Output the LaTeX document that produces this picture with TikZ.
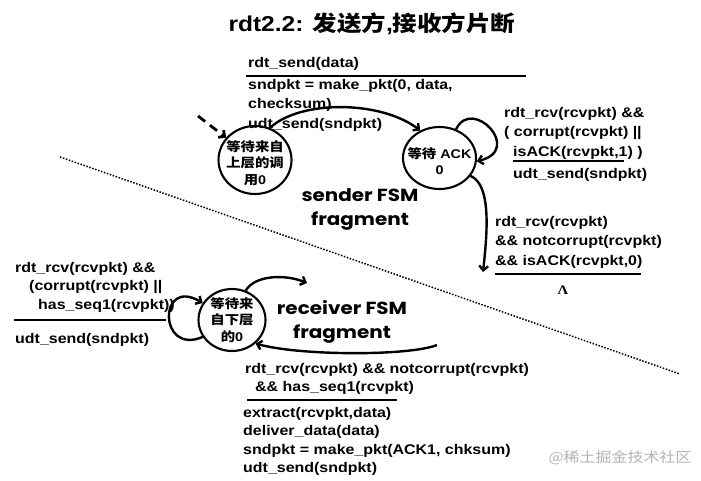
\documentclass[tikz,border=0pt]{standalone}
\usepackage{fontspec}
\setmainfont{Liberation Sans}[FakeStretch=1.14]
\newfontfamily\cjk{Noto Sans CJK SC}[FakeStretch=1.14]
\newfontfamily\fsmfont{Poppins}[FakeStretch=1.14]
\newfontfamily\lamfont{Liberation Serif}[FakeStretch=1.14]
\usetikzlibrary{shapes.geometric,arrows.meta}
\begin{document}
\begin{tikzpicture}[x=1pt,y=-1pt,>={Straight Barb[length=4.5pt,width=9pt]},line join=bevel,
    fsmstate/.style={draw=black,ellipse,line width=2.1pt,inner sep=0pt},
    statetext/.style={inner sep=0pt,align=center,font=\bfseries\fontsize{12.6}{16.5}\selectfont},
    lbl/.style={anchor=north west,inner sep=0pt,align=left,font=\bfseries\fontsize{14}{19.5}\selectfont},
    lbltight/.style={lbl,font=\bfseries\fontsize{14}{18.4}\selectfont},
    guardrule/.style={line width=1.6pt},
    trans/.style={->,line width=2.4pt},
    fsmlbl/.style={inner sep=0pt,align=center,font=\fsmfont\bfseries\fontsize{17.5}{24}\selectfont}]
    \useasboundingbox (0,0) rectangle (701,481);
    %%
    \node (title) at (372,24) [inner sep=0pt,font=\bfseries\fontsize{21.5}{26}\selectfont] {rdt2.2: {\cjk\bfseries 发送方},{\cjk\bfseries 接收方片断}};
    %% states
    \node (w0) at (255,160) [fsmstate,minimum width=73pt,minimum height=68pt,
        label={[statetext,yshift=-3pt]center:{\cjk 等待来自}\\{\cjk 上层的调}\\{\cjk 用}0}] {};
    \node (ack0) at (439.5,158) [fsmstate,minimum width=73pt,minimum height=62pt,
        label={[statetext,yshift=-3pt]center:{\cjk 等待} ACK\\0}] {};
    \node (r0) at (232,320) [fsmstate,minimum width=67pt,minimum height=62pt,
        label={[statetext]center:{\cjk 等待来}\\{\cjk 自下层}\\{\cjk 的}0}] {};
    \coordinate (init) at (198,116);
    \coordinate (ack0out) at (483,272);
    \coordinate (r0out) at (307,283);
    \coordinate (r0in) at (437,345);
    \coordinate (divL) at (60,157);
    \coordinate (divR) at (680,374);
    %% divider
    \draw [line width=1.5pt,dash pattern=on 1.5pt off 1.6pt] (divL) -- (divR);
    %% transitions
    \draw [trans,line width=2.8pt,dash pattern=on 9pt off 6pt] (init) -- (w0);
    \draw [trans] (w0.65) ..controls (300,100) and (380,100) .. (ack0.125);
    \draw [trans] (ack0.60) ..controls (472,96) and (524,150) .. (ack0.355);
    \draw [trans] (ack0.330) ..controls (492,185) and (487,235) .. (ack0out);
    \draw [trans] (r0.210) ..controls (158,356) and (158,276) .. (r0.150);
    \draw [trans] (r0.65) ..controls (255,275) and (285,274) .. (r0out);
    \draw [trans] (r0in) ..controls (410,356) and (300,356) .. (r0.315);
    %% sender labels
    \node (sndguard) at (248,57.5) [lbl] {rdt\_send(data)};
    \draw [guardrule] (246,76) -- (526,76);
    \node (sndact) at (248,79) [lbl] {sndpkt = make\_pkt(0, data,\\checksum)\\udt\_send(sndpkt)};
    \node (ackguard) at (504,107) [lbl] {rdt\_rcv(rcvpkt) \&\&\\( corrupt(rcvpkt) ||\\\hspace*{9pt}isACK(rcvpkt,1) )};
    \draw [guardrule] (513,161) -- (624,161);
    \node (ackact) at (513,168) [lbl] {udt\_send(sndpkt)};
    \node (outguard) at (495,216) [lbl] {rdt\_rcv(rcvpkt)\\\&\& notcorrupt(rcvpkt)\\\&\& isACK(rcvpkt,0)};
    \draw [guardrule] (495,274) -- (641,274);
    \node (lam) at (563,290) [inner sep=0pt,font=\lamfont\bfseries\fontsize{13}{15}\selectfont] {Λ};
    \node (sndfsm) at (360,209) [fsmlbl] {sender FSM\\fragment};
    %% receiver labels
    \node (rloopguard) at (15,262) [lbltight] {rdt\_rcv(rcvpkt) \&\&\\\hspace*{14pt}(corrupt(rcvpkt) ||\\\hspace*{23pt}has\_seq1(rcvpkt))};
    \draw [guardrule] (14,320) -- (166,320);
    \node (rloopact) at (15,333) [lbl] {udt\_send(sndpkt)};
    \node (ringuard) at (245,363) [lbltight] {rdt\_rcv(rcvpkt) \&\& notcorrupt(rcvpkt)\\\hspace*{10pt}\&\& has\_seq1(rcvpkt)};
    \draw [guardrule] (247,400) -- (397,400);
    \node (rinact) at (243,407) [lbltight] {extract(rcvpkt,data)\\deliver\_data(data)\\sndpkt = make\_pkt(ACK1, chksum)\\udt\_send(sndpkt)};
    \node (rcvfsm) at (342,321.5) [fsmlbl] {receiver FSM\\fragment};
    %
    \node (mark) at (620,458) [inner sep=0pt,text=black!30,font=\cjk\fontsize{14}{16}\selectfont] {@稀土掘金技术社区};
\end{tikzpicture}
\end{document}
